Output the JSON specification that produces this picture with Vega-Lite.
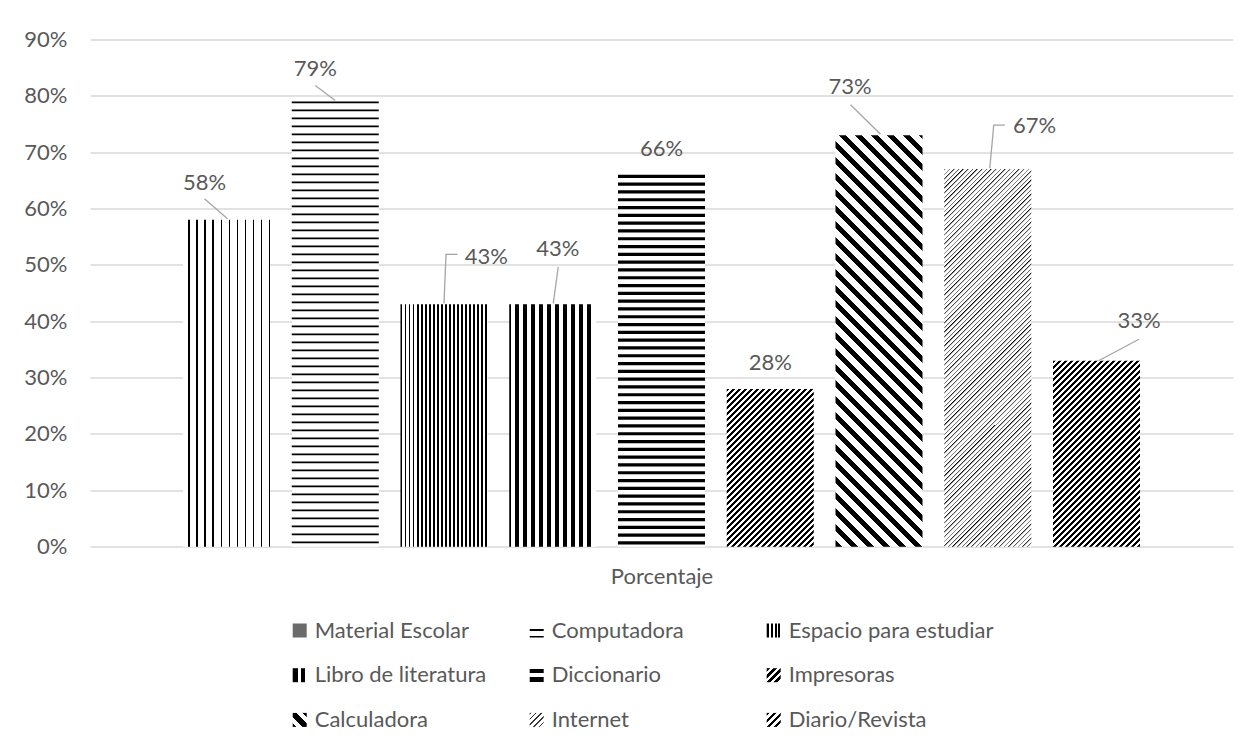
{
  "$schema": "https://vega.github.io/schema/vega-lite/v6.json",
  "width": 1143,
  "height": 507.2,
  "autosize": {"type": "none"},
  "padding": {"left": 90, "top": 39.5, "right": 20, "bottom": 201.3},
  "background": "#ffffff",
  "config": {"view": {"stroke": null}, "font": "Lato"},
  "data": {"values": [
    {"serie": "Material Escolar", "valor": 0.58},
    {"serie": "Computadora", "valor": 0.79},
    {"serie": "Espacio para estudiar", "valor": 0.43},
    {"serie": "Libro de literatura", "valor": 0.43},
    {"serie": "Diccionario", "valor": 0.66},
    {"serie": "Impresoras", "valor": 0.28},
    {"serie": "Calculadora", "valor": 0.73},
    {"serie": "Internet", "valor": 0.67},
    {"serie": "Diario/Revista", "valor": 0.33}
  ]},
  "encoding": {
    "x": {
      "field": "serie", "type": "nominal",
      "scale": {"domain": ["Material Escolar", "Computadora", "Espacio para estudiar", "Libro de literatura", "Diccionario", "Impresoras", "Calculadora", "Internet", "Diario/Revista"], "paddingInner": 0.2, "paddingOuter": 0.855},
      "axis": {"labels": false, "ticks": false, "domain": false, "grid": false, "title": "Porcentaje", "titleFont": "Lato", "titleFontSize": 22, "titleFontWeight": "normal", "titleColor": "#595959", "titlePadding": 20}
    },
    "y": {
      "field": "valor", "type": "quantitative",
      "scale": {"domain": [0, 0.9], "nice": false},
      "axis": {"values": [0, 0.1, 0.2, 0.3, 0.4, 0.5, 0.6, 0.7, 0.8, 0.9], "format": ".0%", "title": null, "domain": false, "ticks": false, "labelFont": "Lato", "labelFontSize": 22, "labelColor": "#595959", "labelPadding": 23, "gridColor": "#d9d9d9", "gridWidth": 1.5}
    }
  },
  "layer": [
    {
      "mark": {"type": "bar", "strokeWidth": 0},
      "encoding": {
        "fill": {
          "condition": [
            {"test": "datum.serie === 'Material Escolar'", "value": {"gradient": "linear", "x1": 0, "y1": 0, "x2": 1, "y2": 0, "stops": [
              {"offset":0,"color":"#fff"},
              {"offset":0.06,"color":"#fff"},{"offset":0.06,"color":"#000"},{"offset":0.075,"color":"#000"},{"offset":0.075,"color":"#fff"},
              {"offset":0.153,"color":"#fff"},{"offset":0.153,"color":"#000"},{"offset":0.168,"color":"#000"},{"offset":0.168,"color":"#fff"},
              {"offset":0.246,"color":"#fff"},{"offset":0.246,"color":"#000"},{"offset":0.261,"color":"#000"},{"offset":0.261,"color":"#fff"},
              {"offset":0.339,"color":"#fff"},{"offset":0.339,"color":"#000"},{"offset":0.354,"color":"#000"},{"offset":0.354,"color":"#fff"},
              {"offset":0.432,"color":"#fff"},{"offset":0.432,"color":"#000"},{"offset":0.447,"color":"#000"},{"offset":0.447,"color":"#fff"},
              {"offset":0.525,"color":"#fff"},{"offset":0.525,"color":"#000"},{"offset":0.54,"color":"#000"},{"offset":0.54,"color":"#fff"},
              {"offset":0.618,"color":"#fff"},{"offset":0.618,"color":"#000"},{"offset":0.633,"color":"#000"},{"offset":0.633,"color":"#fff"},
              {"offset":0.711,"color":"#fff"},{"offset":0.711,"color":"#000"},{"offset":0.726,"color":"#000"},{"offset":0.726,"color":"#fff"},
              {"offset":0.804,"color":"#fff"},{"offset":0.804,"color":"#000"},{"offset":0.819,"color":"#000"},{"offset":0.819,"color":"#fff"},
              {"offset":0.897,"color":"#fff"},{"offset":0.897,"color":"#000"},{"offset":0.912,"color":"#000"},{"offset":0.912,"color":"#fff"},
              {"offset":0.99,"color":"#fff"},{"offset":0.99,"color":"#000"},{"offset":1,"color":"#000"}
            ]}},
            {"test": "datum.serie === 'Espacio para estudiar'", "value": {"gradient": "linear", "x1": 0, "y1": 0, "x2": 1, "y2": 0, "stops": [
              {"offset":0,"color":"#000"},{"offset":0.021,"color":"#000"},{"offset":0.021,"color":"#fff"},
              {"offset":0.0465,"color":"#fff"},{"offset":0.0465,"color":"#000"},{"offset":0.0675,"color":"#000"},{"offset":0.0675,"color":"#fff"},
              {"offset":0.093,"color":"#fff"},{"offset":0.093,"color":"#000"},{"offset":0.114,"color":"#000"},{"offset":0.114,"color":"#fff"},
              {"offset":0.1395,"color":"#fff"},{"offset":0.1395,"color":"#000"},{"offset":0.1605,"color":"#000"},{"offset":0.1605,"color":"#fff"},
              {"offset":0.186,"color":"#fff"},{"offset":0.186,"color":"#000"},{"offset":0.207,"color":"#000"},{"offset":0.207,"color":"#fff"},
              {"offset":0.2325,"color":"#fff"},{"offset":0.2325,"color":"#000"},{"offset":0.2535,"color":"#000"},{"offset":0.2535,"color":"#fff"},
              {"offset":0.279,"color":"#fff"},{"offset":0.279,"color":"#000"},{"offset":0.3,"color":"#000"},{"offset":0.3,"color":"#fff"},
              {"offset":0.3255,"color":"#fff"},{"offset":0.3255,"color":"#000"},{"offset":0.3465,"color":"#000"},{"offset":0.3465,"color":"#fff"},
              {"offset":0.372,"color":"#fff"},{"offset":0.372,"color":"#000"},{"offset":0.393,"color":"#000"},{"offset":0.393,"color":"#fff"},
              {"offset":0.4185,"color":"#fff"},{"offset":0.4185,"color":"#000"},{"offset":0.4395,"color":"#000"},{"offset":0.4395,"color":"#fff"},
              {"offset":0.465,"color":"#fff"},{"offset":0.465,"color":"#000"},{"offset":0.486,"color":"#000"},{"offset":0.486,"color":"#fff"},
              {"offset":0.5115,"color":"#fff"},{"offset":0.5115,"color":"#000"},{"offset":0.5325,"color":"#000"},{"offset":0.5325,"color":"#fff"},
              {"offset":0.558,"color":"#fff"},{"offset":0.558,"color":"#000"},{"offset":0.579,"color":"#000"},{"offset":0.579,"color":"#fff"},
              {"offset":0.6045,"color":"#fff"},{"offset":0.6045,"color":"#000"},{"offset":0.6255,"color":"#000"},{"offset":0.6255,"color":"#fff"},
              {"offset":0.651,"color":"#fff"},{"offset":0.651,"color":"#000"},{"offset":0.672,"color":"#000"},{"offset":0.672,"color":"#fff"},
              {"offset":0.6975,"color":"#fff"},{"offset":0.6975,"color":"#000"},{"offset":0.7185,"color":"#000"},{"offset":0.7185,"color":"#fff"},
              {"offset":0.744,"color":"#fff"},{"offset":0.744,"color":"#000"},{"offset":0.765,"color":"#000"},{"offset":0.765,"color":"#fff"},
              {"offset":0.7905,"color":"#fff"},{"offset":0.7905,"color":"#000"},{"offset":0.8115,"color":"#000"},{"offset":0.8115,"color":"#fff"},
              {"offset":0.837,"color":"#fff"},{"offset":0.837,"color":"#000"},{"offset":0.858,"color":"#000"},{"offset":0.858,"color":"#fff"},
              {"offset":0.8835,"color":"#fff"},{"offset":0.8835,"color":"#000"},{"offset":0.9045,"color":"#000"},{"offset":0.9045,"color":"#fff"},
              {"offset":0.93,"color":"#fff"},{"offset":0.93,"color":"#000"},{"offset":0.951,"color":"#000"},{"offset":0.951,"color":"#fff"},
              {"offset":0.9765,"color":"#fff"},{"offset":0.9765,"color":"#000"},{"offset":0.9975,"color":"#000"},{"offset":0.9975,"color":"#fff"},
              {"offset":1,"color":"#fff"}
            ]}},
            {"test": "datum.serie === 'Libro de literatura'", "value": {"gradient": "linear", "x1": 0, "y1": 0, "x2": 1, "y2": 0, "stops": [
              {"offset":0,"color":"#000"},{"offset":0.024,"color":"#000"},{"offset":0.024,"color":"#fff"},
              {"offset":0.07,"color":"#fff"},{"offset":0.07,"color":"#000"},{"offset":0.116,"color":"#000"},{"offset":0.116,"color":"#fff"},
              {"offset":0.162,"color":"#fff"},{"offset":0.162,"color":"#000"},{"offset":0.208,"color":"#000"},{"offset":0.208,"color":"#fff"},
              {"offset":0.254,"color":"#fff"},{"offset":0.254,"color":"#000"},{"offset":0.3,"color":"#000"},{"offset":0.3,"color":"#fff"},
              {"offset":0.346,"color":"#fff"},{"offset":0.346,"color":"#000"},{"offset":0.392,"color":"#000"},{"offset":0.392,"color":"#fff"},
              {"offset":0.438,"color":"#fff"},{"offset":0.438,"color":"#000"},{"offset":0.484,"color":"#000"},{"offset":0.484,"color":"#fff"},
              {"offset":0.53,"color":"#fff"},{"offset":0.53,"color":"#000"},{"offset":0.576,"color":"#000"},{"offset":0.576,"color":"#fff"},
              {"offset":0.622,"color":"#fff"},{"offset":0.622,"color":"#000"},{"offset":0.668,"color":"#000"},{"offset":0.668,"color":"#fff"},
              {"offset":0.714,"color":"#fff"},{"offset":0.714,"color":"#000"},{"offset":0.76,"color":"#000"},{"offset":0.76,"color":"#fff"},
              {"offset":0.806,"color":"#fff"},{"offset":0.806,"color":"#000"},{"offset":0.852,"color":"#000"},{"offset":0.852,"color":"#fff"},
              {"offset":0.898,"color":"#fff"},{"offset":0.898,"color":"#000"},{"offset":0.944,"color":"#000"},{"offset":0.944,"color":"#fff"},
              {"offset":1,"color":"#fff"}
            ]}},
            {"test": "datum.serie === 'Impresoras'", "value": {"gradient": "linear", "x1": 0, "y1": 0, "x2": 0.65595, "y2": 1.18977, "stops": [
              {"offset":0,"color":"#000"},{"offset":0.0125,"color":"#000"},{"offset":0.0125,"color":"#fff"},
              {"offset":0.0245,"color":"#fff"},{"offset":0.0245,"color":"#000"},{"offset":0.037,"color":"#000"},{"offset":0.037,"color":"#fff"},
              {"offset":0.049,"color":"#fff"},{"offset":0.049,"color":"#000"},{"offset":0.0615,"color":"#000"},{"offset":0.0615,"color":"#fff"},
              {"offset":0.0735,"color":"#fff"},{"offset":0.0735,"color":"#000"},{"offset":0.086,"color":"#000"},{"offset":0.086,"color":"#fff"},
              {"offset":0.098,"color":"#fff"},{"offset":0.098,"color":"#000"},{"offset":0.1105,"color":"#000"},{"offset":0.1105,"color":"#fff"},
              {"offset":0.1225,"color":"#fff"},{"offset":0.1225,"color":"#000"},{"offset":0.135,"color":"#000"},{"offset":0.135,"color":"#fff"},
              {"offset":0.147,"color":"#fff"},{"offset":0.147,"color":"#000"},{"offset":0.1595,"color":"#000"},{"offset":0.1595,"color":"#fff"},
              {"offset":0.1715,"color":"#fff"},{"offset":0.1715,"color":"#000"},{"offset":0.184,"color":"#000"},{"offset":0.184,"color":"#fff"},
              {"offset":0.196,"color":"#fff"},{"offset":0.196,"color":"#000"},{"offset":0.2085,"color":"#000"},{"offset":0.2085,"color":"#fff"},
              {"offset":0.2205,"color":"#fff"},{"offset":0.2205,"color":"#000"},{"offset":0.233,"color":"#000"},{"offset":0.233,"color":"#fff"},
              {"offset":0.245,"color":"#fff"},{"offset":0.245,"color":"#000"},{"offset":0.2575,"color":"#000"},{"offset":0.2575,"color":"#fff"},
              {"offset":0.2695,"color":"#fff"},{"offset":0.2695,"color":"#000"},{"offset":0.282,"color":"#000"},{"offset":0.282,"color":"#fff"},
              {"offset":0.294,"color":"#fff"},{"offset":0.294,"color":"#000"},{"offset":0.3065,"color":"#000"},{"offset":0.3065,"color":"#fff"},
              {"offset":0.3185,"color":"#fff"},{"offset":0.3185,"color":"#000"},{"offset":0.331,"color":"#000"},{"offset":0.331,"color":"#fff"},
              {"offset":0.343,"color":"#fff"},{"offset":0.343,"color":"#000"},{"offset":0.3555,"color":"#000"},{"offset":0.3555,"color":"#fff"},
              {"offset":0.3675,"color":"#fff"},{"offset":0.3675,"color":"#000"},{"offset":0.38,"color":"#000"},{"offset":0.38,"color":"#fff"},
              {"offset":0.392,"color":"#fff"},{"offset":0.392,"color":"#000"},{"offset":0.4045,"color":"#000"},{"offset":0.4045,"color":"#fff"},
              {"offset":0.4165,"color":"#fff"},{"offset":0.4165,"color":"#000"},{"offset":0.429,"color":"#000"},{"offset":0.429,"color":"#fff"},
              {"offset":0.441,"color":"#fff"},{"offset":0.441,"color":"#000"},{"offset":0.4535,"color":"#000"},{"offset":0.4535,"color":"#fff"},
              {"offset":0.4655,"color":"#fff"},{"offset":0.4655,"color":"#000"},{"offset":0.478,"color":"#000"},{"offset":0.478,"color":"#fff"},
              {"offset":0.49,"color":"#fff"},{"offset":0.49,"color":"#000"},{"offset":0.5025,"color":"#000"},{"offset":0.5025,"color":"#fff"},
              {"offset":0.5145,"color":"#fff"},{"offset":0.5145,"color":"#000"},{"offset":0.527,"color":"#000"},{"offset":0.527,"color":"#fff"},
              {"offset":0.539,"color":"#fff"},{"offset":0.539,"color":"#000"},{"offset":0.5515,"color":"#000"},{"offset":0.5515,"color":"#fff"},
              {"offset":0.5635,"color":"#fff"},{"offset":0.5635,"color":"#000"},{"offset":0.576,"color":"#000"},{"offset":0.576,"color":"#fff"},
              {"offset":0.588,"color":"#fff"},{"offset":0.588,"color":"#000"},{"offset":0.6005,"color":"#000"},{"offset":0.6005,"color":"#fff"},
              {"offset":0.6125,"color":"#fff"},{"offset":0.6125,"color":"#000"},{"offset":0.625,"color":"#000"},{"offset":0.625,"color":"#fff"},
              {"offset":0.637,"color":"#fff"},{"offset":0.637,"color":"#000"},{"offset":0.6495,"color":"#000"},{"offset":0.6495,"color":"#fff"},
              {"offset":0.6615,"color":"#fff"},{"offset":0.6615,"color":"#000"},{"offset":0.674,"color":"#000"},{"offset":0.674,"color":"#fff"},
              {"offset":0.686,"color":"#fff"},{"offset":0.686,"color":"#000"},{"offset":0.6985,"color":"#000"},{"offset":0.6985,"color":"#fff"},
              {"offset":0.7105,"color":"#fff"},{"offset":0.7105,"color":"#000"},{"offset":0.723,"color":"#000"},{"offset":0.723,"color":"#fff"},
              {"offset":0.735,"color":"#fff"},{"offset":0.735,"color":"#000"},{"offset":0.7475,"color":"#000"},{"offset":0.7475,"color":"#fff"},
              {"offset":0.7595,"color":"#fff"},{"offset":0.7595,"color":"#000"},{"offset":0.772,"color":"#000"},{"offset":0.772,"color":"#fff"},
              {"offset":0.784,"color":"#fff"},{"offset":0.784,"color":"#000"},{"offset":0.7965,"color":"#000"},{"offset":0.7965,"color":"#fff"},
              {"offset":0.8085,"color":"#fff"},{"offset":0.8085,"color":"#000"},{"offset":0.821,"color":"#000"},{"offset":0.821,"color":"#fff"},
              {"offset":0.833,"color":"#fff"},{"offset":0.833,"color":"#000"},{"offset":0.8455,"color":"#000"},{"offset":0.8455,"color":"#fff"},
              {"offset":0.8575,"color":"#fff"},{"offset":0.8575,"color":"#000"},{"offset":0.87,"color":"#000"},{"offset":0.87,"color":"#fff"},
              {"offset":0.882,"color":"#fff"},{"offset":0.882,"color":"#000"},{"offset":0.8945,"color":"#000"},{"offset":0.8945,"color":"#fff"},
              {"offset":0.9065,"color":"#fff"},{"offset":0.9065,"color":"#000"},{"offset":0.919,"color":"#000"},{"offset":0.919,"color":"#fff"},
              {"offset":0.931,"color":"#fff"},{"offset":0.931,"color":"#000"},{"offset":0.9435,"color":"#000"},{"offset":0.9435,"color":"#fff"},
              {"offset":0.9555,"color":"#fff"},{"offset":0.9555,"color":"#000"},{"offset":0.968,"color":"#000"},{"offset":0.968,"color":"#fff"},
              {"offset":0.98,"color":"#fff"},{"offset":0.98,"color":"#000"},{"offset":0.9925,"color":"#000"},{"offset":0.9925,"color":"#fff"},
              {"offset":1,"color":"#fff"}
            ]}},
            {"test": "datum.serie === 'Calculadora'", "value": {"gradient": "linear", "x1": 0, "y1": 1, "x2": 0.24523, "y2": -0.15961, "stops": [
              {"offset":0,"color":"#000"},{"offset":0.014,"color":"#000"},{"offset":0.014,"color":"#fff"},
              {"offset":0.032,"color":"#fff"},{"offset":0.032,"color":"#000"},{"offset":0.046,"color":"#000"},{"offset":0.046,"color":"#fff"},
              {"offset":0.064,"color":"#fff"},{"offset":0.064,"color":"#000"},{"offset":0.078,"color":"#000"},{"offset":0.078,"color":"#fff"},
              {"offset":0.096,"color":"#fff"},{"offset":0.096,"color":"#000"},{"offset":0.11,"color":"#000"},{"offset":0.11,"color":"#fff"},
              {"offset":0.128,"color":"#fff"},{"offset":0.128,"color":"#000"},{"offset":0.142,"color":"#000"},{"offset":0.142,"color":"#fff"},
              {"offset":0.16,"color":"#fff"},{"offset":0.16,"color":"#000"},{"offset":0.174,"color":"#000"},{"offset":0.174,"color":"#fff"},
              {"offset":0.192,"color":"#fff"},{"offset":0.192,"color":"#000"},{"offset":0.206,"color":"#000"},{"offset":0.206,"color":"#fff"},
              {"offset":0.224,"color":"#fff"},{"offset":0.224,"color":"#000"},{"offset":0.238,"color":"#000"},{"offset":0.238,"color":"#fff"},
              {"offset":0.256,"color":"#fff"},{"offset":0.256,"color":"#000"},{"offset":0.27,"color":"#000"},{"offset":0.27,"color":"#fff"},
              {"offset":0.288,"color":"#fff"},{"offset":0.288,"color":"#000"},{"offset":0.302,"color":"#000"},{"offset":0.302,"color":"#fff"},
              {"offset":0.32,"color":"#fff"},{"offset":0.32,"color":"#000"},{"offset":0.334,"color":"#000"},{"offset":0.334,"color":"#fff"},
              {"offset":0.352,"color":"#fff"},{"offset":0.352,"color":"#000"},{"offset":0.366,"color":"#000"},{"offset":0.366,"color":"#fff"},
              {"offset":0.384,"color":"#fff"},{"offset":0.384,"color":"#000"},{"offset":0.398,"color":"#000"},{"offset":0.398,"color":"#fff"},
              {"offset":0.416,"color":"#fff"},{"offset":0.416,"color":"#000"},{"offset":0.43,"color":"#000"},{"offset":0.43,"color":"#fff"},
              {"offset":0.448,"color":"#fff"},{"offset":0.448,"color":"#000"},{"offset":0.462,"color":"#000"},{"offset":0.462,"color":"#fff"},
              {"offset":0.48,"color":"#fff"},{"offset":0.48,"color":"#000"},{"offset":0.494,"color":"#000"},{"offset":0.494,"color":"#fff"},
              {"offset":0.512,"color":"#fff"},{"offset":0.512,"color":"#000"},{"offset":0.526,"color":"#000"},{"offset":0.526,"color":"#fff"},
              {"offset":0.544,"color":"#fff"},{"offset":0.544,"color":"#000"},{"offset":0.558,"color":"#000"},{"offset":0.558,"color":"#fff"},
              {"offset":0.576,"color":"#fff"},{"offset":0.576,"color":"#000"},{"offset":0.59,"color":"#000"},{"offset":0.59,"color":"#fff"},
              {"offset":0.608,"color":"#fff"},{"offset":0.608,"color":"#000"},{"offset":0.622,"color":"#000"},{"offset":0.622,"color":"#fff"},
              {"offset":0.64,"color":"#fff"},{"offset":0.64,"color":"#000"},{"offset":0.654,"color":"#000"},{"offset":0.654,"color":"#fff"},
              {"offset":0.672,"color":"#fff"},{"offset":0.672,"color":"#000"},{"offset":0.686,"color":"#000"},{"offset":0.686,"color":"#fff"},
              {"offset":0.704,"color":"#fff"},{"offset":0.704,"color":"#000"},{"offset":0.718,"color":"#000"},{"offset":0.718,"color":"#fff"},
              {"offset":0.736,"color":"#fff"},{"offset":0.736,"color":"#000"},{"offset":0.75,"color":"#000"},{"offset":0.75,"color":"#fff"},
              {"offset":0.768,"color":"#fff"},{"offset":0.768,"color":"#000"},{"offset":0.782,"color":"#000"},{"offset":0.782,"color":"#fff"},
              {"offset":0.8,"color":"#fff"},{"offset":0.8,"color":"#000"},{"offset":0.814,"color":"#000"},{"offset":0.814,"color":"#fff"},
              {"offset":0.832,"color":"#fff"},{"offset":0.832,"color":"#000"},{"offset":0.846,"color":"#000"},{"offset":0.846,"color":"#fff"},
              {"offset":0.864,"color":"#fff"},{"offset":0.864,"color":"#000"},{"offset":0.878,"color":"#000"},{"offset":0.878,"color":"#fff"},
              {"offset":0.896,"color":"#fff"},{"offset":0.896,"color":"#000"},{"offset":0.91,"color":"#000"},{"offset":0.91,"color":"#fff"},
              {"offset":0.928,"color":"#fff"},{"offset":0.928,"color":"#000"},{"offset":0.942,"color":"#000"},{"offset":0.942,"color":"#fff"},
              {"offset":0.96,"color":"#fff"},{"offset":0.96,"color":"#000"},{"offset":0.974,"color":"#000"},{"offset":0.974,"color":"#fff"},
              {"offset":0.992,"color":"#fff"},{"offset":0.992,"color":"#000"},{"offset":1,"color":"#000"}
            ]}},
            {"test": "datum.serie === 'Internet'", "value": {"gradient": "linear", "x1": 0, "y1": 0, "x2": 0.2692, "y2": 1.16837, "stops": [
              {"offset":0,"color":"#000"},{"offset":0.004,"color":"#fff"},
              {"offset":0.01,"color":"#fff"},{"offset":0.01,"color":"#000"},{"offset":0.014,"color":"#fff"},
              {"offset":0.02,"color":"#fff"},{"offset":0.02,"color":"#000"},{"offset":0.024,"color":"#fff"},
              {"offset":0.03,"color":"#fff"},{"offset":0.03,"color":"#000"},{"offset":0.034,"color":"#fff"},
              {"offset":0.04,"color":"#fff"},{"offset":0.04,"color":"#000"},{"offset":0.044,"color":"#fff"},
              {"offset":0.05,"color":"#fff"},{"offset":0.05,"color":"#000"},{"offset":0.054,"color":"#fff"},
              {"offset":0.06,"color":"#fff"},{"offset":0.06,"color":"#000"},{"offset":0.064,"color":"#fff"},
              {"offset":0.07,"color":"#fff"},{"offset":0.07,"color":"#000"},{"offset":0.074,"color":"#fff"},
              {"offset":0.08,"color":"#fff"},{"offset":0.08,"color":"#000"},{"offset":0.084,"color":"#fff"},
              {"offset":0.09,"color":"#fff"},{"offset":0.09,"color":"#000"},{"offset":0.094,"color":"#fff"},
              {"offset":0.1,"color":"#fff"},{"offset":0.1,"color":"#000"},{"offset":0.104,"color":"#fff"},
              {"offset":0.11,"color":"#fff"},{"offset":0.11,"color":"#000"},{"offset":0.114,"color":"#fff"},
              {"offset":0.12,"color":"#fff"},{"offset":0.12,"color":"#000"},{"offset":0.124,"color":"#fff"},
              {"offset":0.13,"color":"#fff"},{"offset":0.13,"color":"#000"},{"offset":0.134,"color":"#fff"},
              {"offset":0.14,"color":"#fff"},{"offset":0.14,"color":"#000"},{"offset":0.144,"color":"#fff"},
              {"offset":0.15,"color":"#fff"},{"offset":0.15,"color":"#000"},{"offset":0.154,"color":"#fff"},
              {"offset":0.16,"color":"#fff"},{"offset":0.16,"color":"#000"},{"offset":0.164,"color":"#fff"},
              {"offset":0.17,"color":"#fff"},{"offset":0.17,"color":"#000"},{"offset":0.174,"color":"#fff"},
              {"offset":0.18,"color":"#fff"},{"offset":0.18,"color":"#000"},{"offset":0.184,"color":"#fff"},
              {"offset":0.19,"color":"#fff"},{"offset":0.19,"color":"#000"},{"offset":0.194,"color":"#fff"},
              {"offset":0.2,"color":"#fff"},{"offset":0.2,"color":"#000"},{"offset":0.204,"color":"#fff"},
              {"offset":0.21,"color":"#fff"},{"offset":0.21,"color":"#000"},{"offset":0.214,"color":"#fff"},
              {"offset":0.22,"color":"#fff"},{"offset":0.22,"color":"#000"},{"offset":0.224,"color":"#fff"},
              {"offset":0.23,"color":"#fff"},{"offset":0.23,"color":"#000"},{"offset":0.234,"color":"#fff"},
              {"offset":0.24,"color":"#fff"},{"offset":0.24,"color":"#000"},{"offset":0.244,"color":"#fff"},
              {"offset":0.25,"color":"#fff"},{"offset":0.25,"color":"#000"},{"offset":0.254,"color":"#fff"},
              {"offset":0.26,"color":"#fff"},{"offset":0.26,"color":"#000"},{"offset":0.264,"color":"#fff"},
              {"offset":0.27,"color":"#fff"},{"offset":0.27,"color":"#000"},{"offset":0.274,"color":"#fff"},
              {"offset":0.28,"color":"#fff"},{"offset":0.28,"color":"#000"},{"offset":0.284,"color":"#fff"},
              {"offset":0.29,"color":"#fff"},{"offset":0.29,"color":"#000"},{"offset":0.294,"color":"#fff"},
              {"offset":0.3,"color":"#fff"},{"offset":0.3,"color":"#000"},{"offset":0.304,"color":"#fff"},
              {"offset":0.31,"color":"#fff"},{"offset":0.31,"color":"#000"},{"offset":0.314,"color":"#fff"},
              {"offset":0.32,"color":"#fff"},{"offset":0.32,"color":"#000"},{"offset":0.324,"color":"#fff"},
              {"offset":0.33,"color":"#fff"},{"offset":0.33,"color":"#000"},{"offset":0.334,"color":"#fff"},
              {"offset":0.34,"color":"#fff"},{"offset":0.34,"color":"#000"},{"offset":0.344,"color":"#fff"},
              {"offset":0.35,"color":"#fff"},{"offset":0.35,"color":"#000"},{"offset":0.354,"color":"#fff"},
              {"offset":0.36,"color":"#fff"},{"offset":0.36,"color":"#000"},{"offset":0.364,"color":"#fff"},
              {"offset":0.37,"color":"#fff"},{"offset":0.37,"color":"#000"},{"offset":0.374,"color":"#fff"},
              {"offset":0.38,"color":"#fff"},{"offset":0.38,"color":"#000"},{"offset":0.384,"color":"#fff"},
              {"offset":0.39,"color":"#fff"},{"offset":0.39,"color":"#000"},{"offset":0.394,"color":"#fff"},
              {"offset":0.4,"color":"#fff"},{"offset":0.4,"color":"#000"},{"offset":0.404,"color":"#fff"},
              {"offset":0.41,"color":"#fff"},{"offset":0.41,"color":"#000"},{"offset":0.414,"color":"#fff"},
              {"offset":0.42,"color":"#fff"},{"offset":0.42,"color":"#000"},{"offset":0.424,"color":"#fff"},
              {"offset":0.43,"color":"#fff"},{"offset":0.43,"color":"#000"},{"offset":0.434,"color":"#fff"},
              {"offset":0.44,"color":"#fff"},{"offset":0.44,"color":"#000"},{"offset":0.444,"color":"#fff"},
              {"offset":0.45,"color":"#fff"},{"offset":0.45,"color":"#000"},{"offset":0.454,"color":"#fff"},
              {"offset":0.46,"color":"#fff"},{"offset":0.46,"color":"#000"},{"offset":0.464,"color":"#fff"},
              {"offset":0.47,"color":"#fff"},{"offset":0.47,"color":"#000"},{"offset":0.474,"color":"#fff"},
              {"offset":0.48,"color":"#fff"},{"offset":0.48,"color":"#000"},{"offset":0.484,"color":"#fff"},
              {"offset":0.49,"color":"#fff"},{"offset":0.49,"color":"#000"},{"offset":0.494,"color":"#fff"},
              {"offset":0.5,"color":"#fff"},{"offset":0.5,"color":"#000"},{"offset":0.504,"color":"#fff"},
              {"offset":0.51,"color":"#fff"},{"offset":0.51,"color":"#000"},{"offset":0.514,"color":"#fff"},
              {"offset":0.52,"color":"#fff"},{"offset":0.52,"color":"#000"},{"offset":0.524,"color":"#fff"},
              {"offset":0.53,"color":"#fff"},{"offset":0.53,"color":"#000"},{"offset":0.534,"color":"#fff"},
              {"offset":0.54,"color":"#fff"},{"offset":0.54,"color":"#000"},{"offset":0.544,"color":"#fff"},
              {"offset":0.55,"color":"#fff"},{"offset":0.55,"color":"#000"},{"offset":0.554,"color":"#fff"},
              {"offset":0.56,"color":"#fff"},{"offset":0.56,"color":"#000"},{"offset":0.564,"color":"#fff"},
              {"offset":0.57,"color":"#fff"},{"offset":0.57,"color":"#000"},{"offset":0.574,"color":"#fff"},
              {"offset":0.58,"color":"#fff"},{"offset":0.58,"color":"#000"},{"offset":0.584,"color":"#fff"},
              {"offset":0.59,"color":"#fff"},{"offset":0.59,"color":"#000"},{"offset":0.594,"color":"#fff"},
              {"offset":0.6,"color":"#fff"},{"offset":0.6,"color":"#000"},{"offset":0.604,"color":"#fff"},
              {"offset":0.61,"color":"#fff"},{"offset":0.61,"color":"#000"},{"offset":0.614,"color":"#fff"},
              {"offset":0.62,"color":"#fff"},{"offset":0.62,"color":"#000"},{"offset":0.624,"color":"#fff"},
              {"offset":0.63,"color":"#fff"},{"offset":0.63,"color":"#000"},{"offset":0.634,"color":"#fff"},
              {"offset":0.64,"color":"#fff"},{"offset":0.64,"color":"#000"},{"offset":0.644,"color":"#fff"},
              {"offset":0.65,"color":"#fff"},{"offset":0.65,"color":"#000"},{"offset":0.654,"color":"#fff"},
              {"offset":0.66,"color":"#fff"},{"offset":0.66,"color":"#000"},{"offset":0.664,"color":"#fff"},
              {"offset":0.67,"color":"#fff"},{"offset":0.67,"color":"#000"},{"offset":0.674,"color":"#fff"},
              {"offset":0.68,"color":"#fff"},{"offset":0.68,"color":"#000"},{"offset":0.684,"color":"#fff"},
              {"offset":0.69,"color":"#fff"},{"offset":0.69,"color":"#000"},{"offset":0.694,"color":"#fff"},
              {"offset":0.7,"color":"#fff"},{"offset":0.7,"color":"#000"},{"offset":0.704,"color":"#fff"},
              {"offset":0.71,"color":"#fff"},{"offset":0.71,"color":"#000"},{"offset":0.714,"color":"#fff"},
              {"offset":0.72,"color":"#fff"},{"offset":0.72,"color":"#000"},{"offset":0.724,"color":"#fff"},
              {"offset":0.73,"color":"#fff"},{"offset":0.73,"color":"#000"},{"offset":0.734,"color":"#fff"},
              {"offset":0.74,"color":"#fff"},{"offset":0.74,"color":"#000"},{"offset":0.744,"color":"#fff"},
              {"offset":0.75,"color":"#fff"},{"offset":0.75,"color":"#000"},{"offset":0.754,"color":"#fff"},
              {"offset":0.76,"color":"#fff"},{"offset":0.76,"color":"#000"},{"offset":0.764,"color":"#fff"},
              {"offset":0.77,"color":"#fff"},{"offset":0.77,"color":"#000"},{"offset":0.774,"color":"#fff"},
              {"offset":0.78,"color":"#fff"},{"offset":0.78,"color":"#000"},{"offset":0.784,"color":"#fff"},
              {"offset":0.79,"color":"#fff"},{"offset":0.79,"color":"#000"},{"offset":0.794,"color":"#fff"},
              {"offset":0.8,"color":"#fff"},{"offset":0.8,"color":"#000"},{"offset":0.804,"color":"#fff"},
              {"offset":0.81,"color":"#fff"},{"offset":0.81,"color":"#000"},{"offset":0.814,"color":"#fff"},
              {"offset":0.82,"color":"#fff"},{"offset":0.82,"color":"#000"},{"offset":0.824,"color":"#fff"},
              {"offset":0.83,"color":"#fff"},{"offset":0.83,"color":"#000"},{"offset":0.834,"color":"#fff"},
              {"offset":0.84,"color":"#fff"},{"offset":0.84,"color":"#000"},{"offset":0.844,"color":"#fff"},
              {"offset":0.85,"color":"#fff"},{"offset":0.85,"color":"#000"},{"offset":0.854,"color":"#fff"},
              {"offset":0.86,"color":"#fff"},{"offset":0.86,"color":"#000"},{"offset":0.864,"color":"#fff"},
              {"offset":0.87,"color":"#fff"},{"offset":0.87,"color":"#000"},{"offset":0.874,"color":"#fff"},
              {"offset":0.88,"color":"#fff"},{"offset":0.88,"color":"#000"},{"offset":0.884,"color":"#fff"},
              {"offset":0.89,"color":"#fff"},{"offset":0.89,"color":"#000"},{"offset":0.894,"color":"#fff"},
              {"offset":0.9,"color":"#fff"},{"offset":0.9,"color":"#000"},{"offset":0.904,"color":"#fff"},
              {"offset":0.91,"color":"#fff"},{"offset":0.91,"color":"#000"},{"offset":0.914,"color":"#fff"},
              {"offset":0.92,"color":"#fff"},{"offset":0.92,"color":"#000"},{"offset":0.924,"color":"#fff"},
              {"offset":0.93,"color":"#fff"},{"offset":0.93,"color":"#000"},{"offset":0.934,"color":"#fff"},
              {"offset":0.94,"color":"#fff"},{"offset":0.94,"color":"#000"},{"offset":0.944,"color":"#fff"},
              {"offset":0.95,"color":"#fff"},{"offset":0.95,"color":"#000"},{"offset":0.954,"color":"#fff"},
              {"offset":0.96,"color":"#fff"},{"offset":0.96,"color":"#000"},{"offset":0.964,"color":"#fff"},
              {"offset":0.97,"color":"#fff"},{"offset":0.97,"color":"#000"},{"offset":0.974,"color":"#fff"},
              {"offset":0.98,"color":"#fff"},{"offset":0.98,"color":"#000"},{"offset":0.984,"color":"#fff"},
              {"offset":0.99,"color":"#fff"},{"offset":0.99,"color":"#000"},{"offset":0.994,"color":"#fff"},
              {"offset":1,"color":"#fff"}
            ]}},
            {"test": "datum.serie === 'Diario/Revista'", "value": {"gradient": "linear", "x1": 0, "y1": 0, "x2": 0.56338, "y2": 1.20427, "stops": [
              {"offset":0,"color":"#000"},{"offset":0.011,"color":"#000"},{"offset":0.011,"color":"#fff"},
              {"offset":0.022,"color":"#fff"},{"offset":0.022,"color":"#000"},{"offset":0.033,"color":"#000"},{"offset":0.033,"color":"#fff"},
              {"offset":0.044,"color":"#fff"},{"offset":0.044,"color":"#000"},{"offset":0.055,"color":"#000"},{"offset":0.055,"color":"#fff"},
              {"offset":0.066,"color":"#fff"},{"offset":0.066,"color":"#000"},{"offset":0.077,"color":"#000"},{"offset":0.077,"color":"#fff"},
              {"offset":0.088,"color":"#fff"},{"offset":0.088,"color":"#000"},{"offset":0.099,"color":"#000"},{"offset":0.099,"color":"#fff"},
              {"offset":0.11,"color":"#fff"},{"offset":0.11,"color":"#000"},{"offset":0.121,"color":"#000"},{"offset":0.121,"color":"#fff"},
              {"offset":0.132,"color":"#fff"},{"offset":0.132,"color":"#000"},{"offset":0.143,"color":"#000"},{"offset":0.143,"color":"#fff"},
              {"offset":0.154,"color":"#fff"},{"offset":0.154,"color":"#000"},{"offset":0.165,"color":"#000"},{"offset":0.165,"color":"#fff"},
              {"offset":0.176,"color":"#fff"},{"offset":0.176,"color":"#000"},{"offset":0.187,"color":"#000"},{"offset":0.187,"color":"#fff"},
              {"offset":0.198,"color":"#fff"},{"offset":0.198,"color":"#000"},{"offset":0.209,"color":"#000"},{"offset":0.209,"color":"#fff"},
              {"offset":0.22,"color":"#fff"},{"offset":0.22,"color":"#000"},{"offset":0.231,"color":"#000"},{"offset":0.231,"color":"#fff"},
              {"offset":0.242,"color":"#fff"},{"offset":0.242,"color":"#000"},{"offset":0.253,"color":"#000"},{"offset":0.253,"color":"#fff"},
              {"offset":0.264,"color":"#fff"},{"offset":0.264,"color":"#000"},{"offset":0.275,"color":"#000"},{"offset":0.275,"color":"#fff"},
              {"offset":0.286,"color":"#fff"},{"offset":0.286,"color":"#000"},{"offset":0.297,"color":"#000"},{"offset":0.297,"color":"#fff"},
              {"offset":0.308,"color":"#fff"},{"offset":0.308,"color":"#000"},{"offset":0.319,"color":"#000"},{"offset":0.319,"color":"#fff"},
              {"offset":0.33,"color":"#fff"},{"offset":0.33,"color":"#000"},{"offset":0.341,"color":"#000"},{"offset":0.341,"color":"#fff"},
              {"offset":0.352,"color":"#fff"},{"offset":0.352,"color":"#000"},{"offset":0.363,"color":"#000"},{"offset":0.363,"color":"#fff"},
              {"offset":0.374,"color":"#fff"},{"offset":0.374,"color":"#000"},{"offset":0.385,"color":"#000"},{"offset":0.385,"color":"#fff"},
              {"offset":0.396,"color":"#fff"},{"offset":0.396,"color":"#000"},{"offset":0.407,"color":"#000"},{"offset":0.407,"color":"#fff"},
              {"offset":0.418,"color":"#fff"},{"offset":0.418,"color":"#000"},{"offset":0.429,"color":"#000"},{"offset":0.429,"color":"#fff"},
              {"offset":0.44,"color":"#fff"},{"offset":0.44,"color":"#000"},{"offset":0.451,"color":"#000"},{"offset":0.451,"color":"#fff"},
              {"offset":0.462,"color":"#fff"},{"offset":0.462,"color":"#000"},{"offset":0.473,"color":"#000"},{"offset":0.473,"color":"#fff"},
              {"offset":0.484,"color":"#fff"},{"offset":0.484,"color":"#000"},{"offset":0.495,"color":"#000"},{"offset":0.495,"color":"#fff"},
              {"offset":0.506,"color":"#fff"},{"offset":0.506,"color":"#000"},{"offset":0.517,"color":"#000"},{"offset":0.517,"color":"#fff"},
              {"offset":0.528,"color":"#fff"},{"offset":0.528,"color":"#000"},{"offset":0.539,"color":"#000"},{"offset":0.539,"color":"#fff"},
              {"offset":0.55,"color":"#fff"},{"offset":0.55,"color":"#000"},{"offset":0.561,"color":"#000"},{"offset":0.561,"color":"#fff"},
              {"offset":0.572,"color":"#fff"},{"offset":0.572,"color":"#000"},{"offset":0.583,"color":"#000"},{"offset":0.583,"color":"#fff"},
              {"offset":0.594,"color":"#fff"},{"offset":0.594,"color":"#000"},{"offset":0.605,"color":"#000"},{"offset":0.605,"color":"#fff"},
              {"offset":0.616,"color":"#fff"},{"offset":0.616,"color":"#000"},{"offset":0.627,"color":"#000"},{"offset":0.627,"color":"#fff"},
              {"offset":0.638,"color":"#fff"},{"offset":0.638,"color":"#000"},{"offset":0.649,"color":"#000"},{"offset":0.649,"color":"#fff"},
              {"offset":0.66,"color":"#fff"},{"offset":0.66,"color":"#000"},{"offset":0.671,"color":"#000"},{"offset":0.671,"color":"#fff"},
              {"offset":0.682,"color":"#fff"},{"offset":0.682,"color":"#000"},{"offset":0.693,"color":"#000"},{"offset":0.693,"color":"#fff"},
              {"offset":0.704,"color":"#fff"},{"offset":0.704,"color":"#000"},{"offset":0.715,"color":"#000"},{"offset":0.715,"color":"#fff"},
              {"offset":0.726,"color":"#fff"},{"offset":0.726,"color":"#000"},{"offset":0.737,"color":"#000"},{"offset":0.737,"color":"#fff"},
              {"offset":0.748,"color":"#fff"},{"offset":0.748,"color":"#000"},{"offset":0.759,"color":"#000"},{"offset":0.759,"color":"#fff"},
              {"offset":0.77,"color":"#fff"},{"offset":0.77,"color":"#000"},{"offset":0.781,"color":"#000"},{"offset":0.781,"color":"#fff"},
              {"offset":0.792,"color":"#fff"},{"offset":0.792,"color":"#000"},{"offset":0.803,"color":"#000"},{"offset":0.803,"color":"#fff"},
              {"offset":0.814,"color":"#fff"},{"offset":0.814,"color":"#000"},{"offset":0.825,"color":"#000"},{"offset":0.825,"color":"#fff"},
              {"offset":0.836,"color":"#fff"},{"offset":0.836,"color":"#000"},{"offset":0.847,"color":"#000"},{"offset":0.847,"color":"#fff"},
              {"offset":0.858,"color":"#fff"},{"offset":0.858,"color":"#000"},{"offset":0.869,"color":"#000"},{"offset":0.869,"color":"#fff"},
              {"offset":0.88,"color":"#fff"},{"offset":0.88,"color":"#000"},{"offset":0.891,"color":"#000"},{"offset":0.891,"color":"#fff"},
              {"offset":0.902,"color":"#fff"},{"offset":0.902,"color":"#000"},{"offset":0.913,"color":"#000"},{"offset":0.913,"color":"#fff"},
              {"offset":0.924,"color":"#fff"},{"offset":0.924,"color":"#000"},{"offset":0.935,"color":"#000"},{"offset":0.935,"color":"#fff"},
              {"offset":0.946,"color":"#fff"},{"offset":0.946,"color":"#000"},{"offset":0.957,"color":"#000"},{"offset":0.957,"color":"#fff"},
              {"offset":0.968,"color":"#fff"},{"offset":0.968,"color":"#000"},{"offset":0.979,"color":"#000"},{"offset":0.979,"color":"#fff"},
              {"offset":0.99,"color":"#fff"},{"offset":0.99,"color":"#000"},{"offset":1,"color":"#000"}
            ]}}
          ],
          "value": "#ffffff"
        }
      }
    },
    {
      "transform": [{"filter": "datum.serie === 'Computadora'"}],
      "mark": {"type": "rule", "color": "#000000", "strokeWidth": 87, "strokeDash": [1.8, 6.2], "strokeCap": "butt"},
      "encoding": {"y2": {"datum": 0}}
    },
    {
      "transform": [{"filter": "datum.serie === 'Diccionario'"}],
      "mark": {"type": "rule", "color": "#000000", "strokeWidth": 87, "strokeDash": [3.2, 4.6], "strokeCap": "butt"},
      "encoding": {"y2": {"datum": 0}}
    },
    {
      "transform": [{"filter": "datum.serie === 'Material Escolar'"}],
      "mark": {"type": "rule", "color": "#a6a6a6", "strokeWidth": 1.3, "xOffset": 1, "yOffset": -1, "x2Offset": -22, "y2Offset": -21},
      "encoding": {"x2": {"field": "serie"}, "y2": {"field": "valor"}}
    },
    {
      "transform": [{"filter": "datum.serie === 'Computadora'"}],
      "mark": {"type": "rule", "color": "#a6a6a6", "strokeWidth": 1.3, "xOffset": 0, "yOffset": -1, "x2Offset": -20, "y2Offset": -16},
      "encoding": {"x2": {"field": "serie"}, "y2": {"field": "valor"}}
    },
    {
      "transform": [{"filter": "datum.serie === 'Espacio para estudiar'"}],
      "mark": {"type": "rule", "color": "#a6a6a6", "strokeWidth": 1.3, "xOffset": 0, "yOffset": -1, "x2Offset": 2, "y2Offset": -50},
      "encoding": {"x2": {"field": "serie"}, "y2": {"field": "valor"}}
    },
    {
      "transform": [{"filter": "datum.serie === 'Espacio para estudiar'"}],
      "mark": {"type": "rule", "color": "#a6a6a6", "strokeWidth": 1.3, "xOffset": 1.4, "yOffset": -50, "x2Offset": 13.5, "y2Offset": -50},
      "encoding": {"x2": {"field": "serie"}, "y2": {"field": "valor"}}
    },
    {
      "transform": [{"filter": "datum.serie === 'Libro de literatura'"}],
      "mark": {"type": "rule", "color": "#a6a6a6", "strokeWidth": 1.3, "xOffset": 0.5, "yOffset": -1, "x2Offset": 5.5, "y2Offset": -37.5},
      "encoding": {"x2": {"field": "serie"}, "y2": {"field": "valor"}}
    },
    {
      "transform": [{"filter": "datum.serie === 'Calculadora'"}],
      "mark": {"type": "rule", "color": "#a6a6a6", "strokeWidth": 1.3, "xOffset": 1.5, "yOffset": -1, "x2Offset": -28.5, "y2Offset": -30.5},
      "encoding": {"x2": {"field": "serie"}, "y2": {"field": "valor"}}
    },
    {
      "transform": [{"filter": "datum.serie === 'Internet'"}],
      "mark": {"type": "rule", "color": "#a6a6a6", "strokeWidth": 1.3, "xOffset": 2, "yOffset": -1, "x2Offset": 6, "y2Offset": -44},
      "encoding": {"x2": {"field": "serie"}, "y2": {"field": "valor"}}
    },
    {
      "transform": [{"filter": "datum.serie === 'Internet'"}],
      "mark": {"type": "rule", "color": "#a6a6a6", "strokeWidth": 1.3, "xOffset": 5.4, "yOffset": -44, "x2Offset": 17, "y2Offset": -44},
      "encoding": {"x2": {"field": "serie"}, "y2": {"field": "valor"}}
    },
    {
      "transform": [{"filter": "datum.serie === 'Diario/Revista'"}],
      "mark": {"type": "rule", "color": "#a6a6a6", "strokeWidth": 1.3, "xOffset": 2, "yOffset": 0, "x2Offset": 42.5, "y2Offset": -21.5},
      "encoding": {"x2": {"field": "serie"}, "y2": {"field": "valor"}}
    },
    {
      "transform": [{"filter": "datum.serie === 'Material Escolar'"}],
      "mark": {"type": "text", "font": "Lato", "fontSize": 22, "color": "#595959", "dx": -22, "dy": -37},
      "encoding": {"text": {"field": "valor", "type": "quantitative", "format": ".0%"}}
    },
    {
      "transform": [{"filter": "datum.serie === 'Computadora'"}],
      "mark": {"type": "text", "font": "Lato", "fontSize": 22, "color": "#595959", "dx": -20, "dy": -32.5},
      "encoding": {"text": {"field": "valor", "type": "quantitative", "format": ".0%"}}
    },
    {
      "transform": [{"filter": "datum.serie === 'Espacio para estudiar'"}],
      "mark": {"type": "text", "font": "Lato", "fontSize": 22, "color": "#595959", "dx": 42.3, "dy": -47.4},
      "encoding": {"text": {"field": "valor", "type": "quantitative", "format": ".0%"}}
    },
    {
      "transform": [{"filter": "datum.serie === 'Libro de literatura'"}],
      "mark": {"type": "text", "font": "Lato", "fontSize": 22, "color": "#595959", "dx": 5, "dy": -55.7},
      "encoding": {"text": {"field": "valor", "type": "quantitative", "format": ".0%"}}
    },
    {
      "transform": [{"filter": "datum.serie === 'Diccionario'"}],
      "mark": {"type": "text", "font": "Lato", "fontSize": 22, "color": "#595959", "dx": 0, "dy": -25.7},
      "encoding": {"text": {"field": "valor", "type": "quantitative", "format": ".0%"}}
    },
    {
      "transform": [{"filter": "datum.serie === 'Impresoras'"}],
      "mark": {"type": "text", "font": "Lato", "fontSize": 22, "color": "#595959", "dx": 0, "dy": -26},
      "encoding": {"text": {"field": "valor", "type": "quantitative", "format": ".0%"}}
    },
    {
      "transform": [{"filter": "datum.serie === 'Calculadora'"}],
      "mark": {"type": "text", "font": "Lato", "fontSize": 22, "color": "#595959", "dx": -29, "dy": -48.8},
      "encoding": {"text": {"field": "valor", "type": "quantitative", "format": ".0%"}}
    },
    {
      "transform": [{"filter": "datum.serie === 'Internet'"}],
      "mark": {"type": "text", "font": "Lato", "fontSize": 22, "color": "#595959", "dx": 46.8, "dy": -43.4},
      "encoding": {"text": {"field": "valor", "type": "quantitative", "format": ".0%"}}
    },
    {
      "transform": [{"filter": "datum.serie === 'Diario/Revista'"}],
      "mark": {"type": "text", "font": "Lato", "fontSize": 22, "color": "#595959", "dx": 42.5, "dy": -39.3},
      "encoding": {"text": {"field": "valor", "type": "quantitative", "format": ".0%"}}
    },
    {
      "mark": {"type": "square", "opacity": 0},
      "encoding": {
        "color": {
          "field": "serie", "type": "nominal",
          "scale": {
            "domain": ["Material Escolar", "Computadora", "Espacio para estudiar", "Libro de literatura", "Diccionario", "Impresoras", "Calculadora", "Internet", "Diario/Revista"],
            "range": [
              "#6b6b6b",
              {"expr": "{gradient:'linear',x1:0,y1:0,x2:0,y2:1,stops:[{offset:0,color:'#fff'},{offset:0.42,color:'#fff'},{offset:0.42,color:'#000'},{offset:0.52,color:'#000'},{offset:0.52,color:'#fff'},{offset:0.88,color:'#fff'},{offset:0.88,color:'#000'},{offset:1,color:'#000'}]}"},
              {"expr": "{gradient:'linear',x1:0,y1:0,x2:1,y2:0,stops:[{offset:0,color:'#000'},{offset:0.14,color:'#000'},{offset:0.14,color:'#fff'},{offset:0.28,color:'#fff'},{offset:0.28,color:'#000'},{offset:0.42,color:'#000'},{offset:0.42,color:'#fff'},{offset:0.56,color:'#fff'},{offset:0.56,color:'#000'},{offset:0.7,color:'#000'},{offset:0.7,color:'#fff'},{offset:0.84,color:'#fff'},{offset:0.84,color:'#000'},{offset:0.98,color:'#000'},{offset:0.98,color:'#fff'}]}"},
              {"expr": "{gradient:'linear',x1:0,y1:0,x2:1,y2:0,stops:[{offset:0,color:'#000'},{offset:0.36,color:'#000'},{offset:0.36,color:'#fff'},{offset:0.6,color:'#fff'},{offset:0.6,color:'#000'},{offset:0.88,color:'#000'},{offset:0.88,color:'#fff'}]}"},
              {"expr": "{gradient:'linear',x1:0,y1:0,x2:0,y2:1,stops:[{offset:0,color:'#fff'},{offset:0.05,color:'#fff'},{offset:0.05,color:'#000'},{offset:0.37,color:'#000'},{offset:0.37,color:'#fff'},{offset:0.66,color:'#fff'},{offset:0.66,color:'#000'},{offset:0.98,color:'#000'},{offset:0.98,color:'#fff'}]}"},
              {"expr": "{gradient:'linear',x1:0,y1:0,x2:1,y2:1,stops:[{offset:0,color:'#000'},{offset:0.12,color:'#000'},{offset:0.12,color:'#fff'},{offset:0.25,color:'#fff'},{offset:0.25,color:'#000'},{offset:0.37,color:'#000'},{offset:0.37,color:'#fff'},{offset:0.5,color:'#fff'},{offset:0.5,color:'#000'},{offset:0.62,color:'#000'},{offset:0.62,color:'#fff'},{offset:0.75,color:'#fff'},{offset:0.75,color:'#000'},{offset:0.87,color:'#000'},{offset:0.87,color:'#fff'}]}"},
              {"expr": "{gradient:'linear',x1:0,y1:1,x2:1,y2:0,stops:[{offset:0,color:'#000'},{offset:0.12,color:'#000'},{offset:0.12,color:'#fff'},{offset:0.36,color:'#fff'},{offset:0.36,color:'#000'},{offset:0.62,color:'#000'},{offset:0.62,color:'#fff'},{offset:0.86,color:'#fff'},{offset:0.86,color:'#000'},{offset:1,color:'#000'}]}"},
              {"expr": "{gradient:'linear',x1:0,y1:0,x2:1,y2:1,stops:[{offset:0,color:'#333'},{offset:0.06,color:'#333'},{offset:0.06,color:'#fff'},{offset:0.2,color:'#fff'},{offset:0.2,color:'#333'},{offset:0.26,color:'#333'},{offset:0.26,color:'#fff'},{offset:0.4,color:'#fff'},{offset:0.4,color:'#333'},{offset:0.46,color:'#333'},{offset:0.46,color:'#fff'},{offset:0.6,color:'#fff'},{offset:0.6,color:'#333'},{offset:0.66,color:'#333'},{offset:0.66,color:'#fff'},{offset:0.8,color:'#fff'},{offset:0.8,color:'#333'},{offset:0.86,color:'#333'},{offset:0.86,color:'#fff'}]}"},
              {"expr": "{gradient:'linear',x1:0,y1:0,x2:1,y2:1,stops:[{offset:0,color:'#000'},{offset:0.12,color:'#000'},{offset:0.12,color:'#fff'},{offset:0.25,color:'#fff'},{offset:0.25,color:'#000'},{offset:0.37,color:'#000'},{offset:0.37,color:'#fff'},{offset:0.5,color:'#fff'},{offset:0.5,color:'#000'},{offset:0.62,color:'#000'},{offset:0.62,color:'#fff'},{offset:0.75,color:'#fff'},{offset:0.75,color:'#000'},{offset:0.87,color:'#000'},{offset:0.87,color:'#fff'}]}"}
            ]
          },
          "legend": {
            "title": null, "orient": "none", "direction": "horizontal", "legendX": 198.7, "legendY": 580, "columns": 3, "gridAlign": "all",
            "columnPadding": 6, "rowPadding": 22.7, "padding": 0,
            "symbolType": "square", "symbolSize": 196, "symbolOpacity": 1, "symbolStrokeWidth": 0,
            "labelFont": "Lato", "labelFontSize": 22, "labelColor": "#595959", "labelOffset": 4, "labelLimit": 0
          }
        }
      }
    }
  ]
}
